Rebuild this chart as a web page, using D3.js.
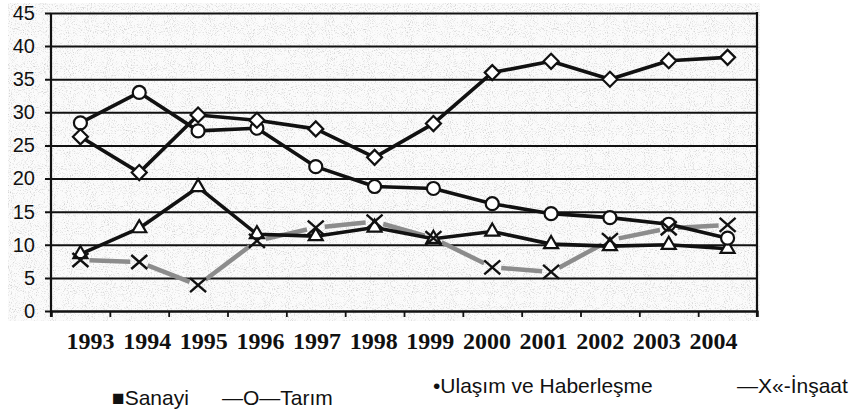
<!DOCTYPE html>
<html><head><meta charset="utf-8">
<script src="https://cdn.jsdelivr.net/npm/d3@7"></script>
<style>html,body{margin:0;padding:0;background:#fff;}svg{display:block;}</style>
</head><body>
<svg id="c" width="859" height="417"></svg>
<script>
const years = ["1993","1994","1995","1996","1997","1998","1999","2000","2001","2002","2003","2004"];
const sanayi = [26.3,20.9,29.6,28.8,27.5,23.2,28.3,36.0,37.7,35.0,37.8,38.3];
const tarim = [28.4,33.0,27.2,27.6,21.8,18.8,18.5,16.2,14.7,14.1,13.1,11.0];
const ulasim = [8.6,12.5,18.7,11.6,11.3,12.6,10.9,12.0,10.1,9.8,10.0,9.4];
const insaat = [7.7,7.4,3.9,10.6,12.6,13.5,11.0,6.6,5.9,10.7,12.5,13.0];
const yTicks = [0,5,10,15,20,25,30,35,40,45];
const legendLabels = ["■Sanayi","—O—Tarım","•Ulaşım ve Haberleşme","—X«-İnşaat"];

const svg = d3.select("#c");
const L = 51, R = 757, T = 13, B = 311;
const x = d3.scaleBand().domain(years).range([L, R]);
const xi = d3.scaleLinear().domain([0, years.length]).range([L, R]);
const xl = d3.scalePoint().domain(years).range([90, 713]);
const y = d3.scaleLinear().domain([0, 45]).range([B, T]);
const cx = d => x(d) + x.bandwidth() / 2;

// speckled background
const defs = svg.append("defs");
const f = defs.append("filter").attr("id","noise").attr("x",0).attr("y",0).attr("width","100%").attr("height","100%");
f.append("feTurbulence").attr("type","fractalNoise").attr("baseFrequency","0.95").attr("numOctaves",2).attr("seed",4).attr("result","t");
f.append("feColorMatrix").attr("type","matrix").attr("values","0 0 0 0 0.55  0 0 0 0 0.55  0 0 0 0 0.55  2.4 0 0 0 -1.25");
svg.append("rect").attr("x",8).attr("y",3).attr("width",752).attr("height",318).attr("fill","#fbfbfb");
svg.append("rect").attr("x",8).attr("y",3).attr("width",752).attr("height",318).attr("filter","url(#noise)");

// y axis with gridlines
const ya = svg.append("g").attr("transform",`translate(${L},0)`)
  .call(d3.axisLeft(y).tickValues(yTicks).tickSize(-(R - L)).tickPadding(16).tickFormat(d3.format("d")));
ya.select(".domain").remove();
ya.selectAll(".tick line").attr("x1",-6).attr("stroke","#111").attr("stroke-width",2);
ya.selectAll(".tick text").attr("font-family","Liberation Sans, Arial, sans-serif").attr("font-size",20).attr("fill","#111");
svg.append("line").attr("x1",L).attr("x2",L).attr("y1",T).attr("y2",B+6).attr("stroke","#111").attr("stroke-width",2.2);
svg.append("line").attr("x1",R).attr("x2",R).attr("y1",T-1).attr("y2",B+6).attr("stroke","#111").attr("stroke-width",2.2);

// x axis tick marks at band boundaries
const xa = svg.append("g").attr("transform",`translate(0,${B})`)
  .call(d3.axisBottom(xi).tickValues(d3.range(0, years.length + 1)).tickSize(6).tickFormat(""));
xa.select(".domain").attr("stroke","#111").attr("stroke-width",2.2);
xa.selectAll(".tick line").attr("stroke","#111").attr("stroke-width",1.8);

// x labels
const xla = svg.append("g").attr("transform","translate(0,349)")
  .call(d3.axisBottom(xl).tickSize(0).tickPadding(0));
xla.select(".domain").remove();
xla.selectAll(".tick text").attr("dy",0).attr("font-family","Liberation Serif, Times New Roman, serif")
  .attr("font-weight","bold").attr("font-size",24).attr("fill","#111");

// İnşaat gray segments with gaps
const gap = 9;
const segs = d3.range(years.length - 1).map(i => {
  const x1 = cx(years[i]), y1 = y(insaat[i]), x2 = cx(years[i+1]), y2 = y(insaat[i+1]);
  const dx = x2 - x1, dy = y2 - y1, len = Math.hypot(dx, dy);
  return [x1 + dx/len*gap, y1 + dy/len*gap, x2 - dx/len*gap, y2 - dy/len*gap];
});
svg.append("g").selectAll("line").data(segs).join("line")
  .attr("x1",d=>d[0]).attr("y1",d=>d[1]).attr("x2",d=>d[2]).attr("y2",d=>d[3])
  .attr("stroke","#8c8c8c").attr("stroke-width",4.5);

const line = d3.line().x((d,i)=>cx(years[i])).y(d=>y(d));
[ulasim, tarim, sanayi].forEach(s => {
  svg.append("path").datum(s).attr("d", line).attr("fill","none").attr("stroke","#111").attr("stroke-width",3.6).attr("stroke-linejoin","round");
});

// markers
const mk = svg.append("g").attr("stroke","#111").attr("stroke-width",2.2).attr("fill","#fff");
mk.selectAll(".tri").data(ulasim).join("path").attr("class","tri")
  .attr("d", d3.symbol(d3.symbolTriangle, 85)).attr("transform",(d,i)=>`translate(${cx(years[i])},${y(d)})`);
mk.selectAll(".cir").data(tarim).join("circle").attr("class","cir")
  .attr("cx",(d,i)=>cx(years[i])).attr("cy",d=>y(d)).attr("r",6.5);
mk.selectAll(".dia").data(sanayi).join("path").attr("class","dia")
  .attr("d", "M0,-7.5L7.5,0L0,7.5L-7.5,0Z").attr("transform",(d,i)=>`translate(${cx(years[i])},${y(d)})`);
mk.selectAll(".x").data(insaat).join("path").attr("class","x")
  .attr("d","M-8,-7L8,7M-8,7L8,-7").attr("fill","none").attr("stroke-width",2.4)
  .attr("transform",(d,i)=>`translate(${cx(years[i])},${y(d)})`);

// legend
const legPos = [[112,405],[222,405],[433,393],[737,393]];
svg.append("g").selectAll("text").data(legendLabels).join("text")
  .attr("x",(d,i)=>legPos[i][0]).attr("y",(d,i)=>legPos[i][1])
  .attr("font-family","Liberation Sans, Arial, sans-serif").attr("font-size",21).attr("fill","#111")
  .text(d=>d);
</script>
</body></html>
